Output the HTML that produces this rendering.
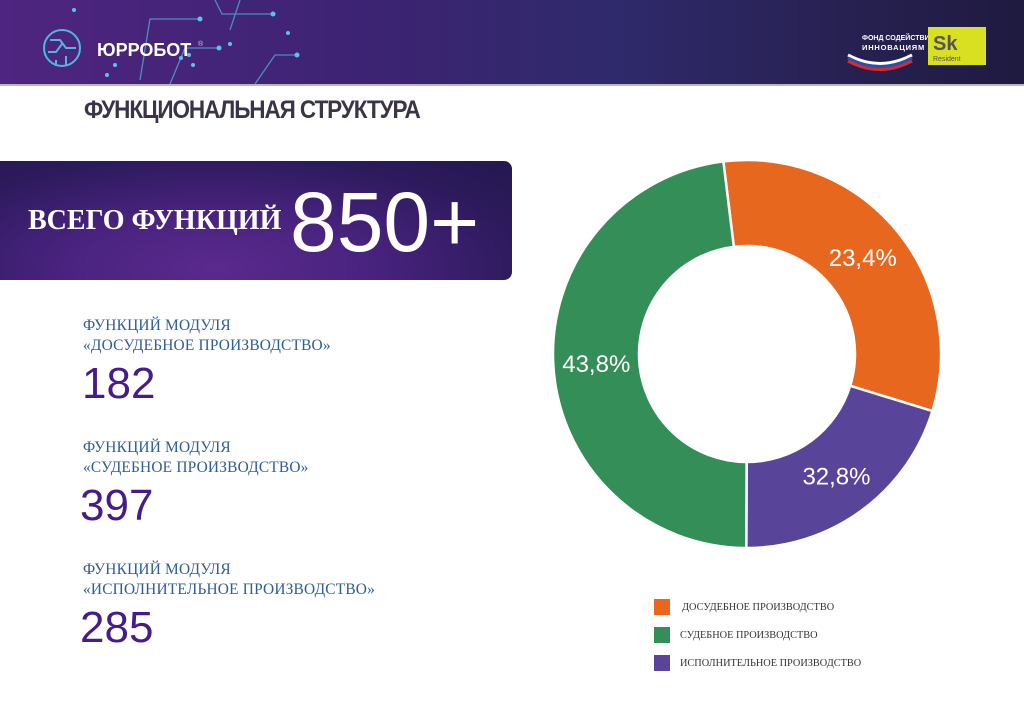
<!DOCTYPE html>
<html><head><meta charset="utf-8">
<style>
body{margin:0;width:1024px;height:726px;background:#fff;position:relative;overflow:hidden;font-family:"Liberation Sans","Noto Sans CJK SC",sans-serif}
.abs{position:absolute}
#hdr{left:0;top:0;width:1024px;height:84px;background:linear-gradient(90deg,#4e2580 0%,#3d2373 35%,#2f2a6b 60%,#26204f 85%,#1f1a40 100%);border-bottom:2px solid #b9b6c6}
.serif{font-family:"Liberation Serif","Noto Serif CJK SC",serif}
.lbl{color:#2e5d95;font-size:15.4px;line-height:20px;letter-spacing:0.2px}
.num{color:#451c8a;font-size:44px;line-height:44px}
.leg{font-size:10.3px;color:#333}
.sw{width:16px;height:16px}
</style></head><body>
<div id="hdr" class="abs">
<svg width="1024" height="84" style="position:absolute;left:0;top:0">
<g stroke="#4fa6d8" stroke-width="1.3" fill="none" opacity="0.8">
<polyline points="140,80 150,19 200,19"/><polyline points="170,84 185,48 218,48"/><polyline points="215,0 222,14 273,14"/><polyline points="255,84 275,55 297,55"/><polyline points="240,0 230,30"/>
</g>
<g fill="#5fc0ee"><circle cx="74" cy="10" r="2"/><circle cx="200" cy="19" r="2.5"/><circle cx="273" cy="14" r="2.5"/><circle cx="219" cy="48" r="2.5"/><circle cx="297" cy="55" r="2.5"/><circle cx="288" cy="33" r="2"/><circle cx="181" cy="58" r="2"/><circle cx="189" cy="55" r="2"/><circle cx="193" cy="65" r="2"/><circle cx="230" cy="44" r="2"/><circle cx="115" cy="65" r="2"/><circle cx="107" cy="75" r="2"/></g>
<g stroke="#4fb7e0" stroke-width="2" fill="none"><circle cx="62" cy="48" r="18"/><path d="M50 40h10l6 8h10M48 52h8l6-8M56 60v6M66 56v10"/></g>
<text x="97" y="56" fill="#fff" font-size="18" font-weight="bold" font-family="Liberation Sans">ЮРРОБОТ</text><text x="198" y="46" fill="#ccc" font-size="7">®</text>
<text x="862" y="40" fill="#fff" font-size="7" font-weight="bold">ФОНД СОДЕЙСТВИЯ</text>
<text x="862" y="50" fill="#fff" font-size="7.5" font-weight="bold" letter-spacing="0.8">ИННОВАЦИЯМ</text>
<path d="M848 55 Q880 72 912 55" stroke="#fff" stroke-width="3" fill="none"/><path d="M848 58 Q880 75 912 58" stroke="#2a4fb0" stroke-width="3" fill="none"/><path d="M848 61 Q880 78 912 61" stroke="#d62b2b" stroke-width="3" fill="none"/>
<rect x="928" y="27" width="58" height="38" fill="#d9e021"/>
<text x="933" y="50" fill="#555" font-size="20" font-weight="bold">Sk</text><text x="933" y="61" fill="#555" font-size="7">Resident</text>
</svg>
</div>
<div class="abs" style="left:84px;top:96px;font-size:25px;font-weight:bold;color:#3a3446;letter-spacing:-1.2px;transform:scaleX(0.9);transform-origin:left">ФУНКЦИОНАЛЬНАЯ СТРУКТУРА</div>
<div class="abs" style="left:0;top:161px;width:512px;height:119px;border-radius:0 8px 8px 0;background:radial-gradient(ellipse at 42% 90%,#5a2a8c 0%,#4a2380 35%,#2c1a5c 75%,#24184e 100%)">
<div class="abs serif" style="left:28px;top:44px;font-size:28px;font-weight:bold;color:#fff">ВСЕГО ФУНКЦИЙ</div>
<div class="abs" style="left:290px;top:16px;font-size:84px;color:#fff;line-height:90px">850+</div>
</div>
<div class="abs serif lbl" style="left:83px;top:316px">ФУНКЦИЙ МОДУЛЯ<br>«ДОСУДЕБНОЕ ПРОИЗВОДСТВО»</div>
<div class="abs num" style="left:82px;top:362px">182</div>
<div class="abs serif lbl" style="left:83px;top:438px">ФУНКЦИЙ МОДУЛЯ<br>«СУДЕБНОЕ ПРОИЗВОДСТВО»</div>
<div class="abs num" style="left:80px;top:484px">397</div>
<div class="abs serif lbl" style="left:83px;top:560px">ФУНКЦИЙ МОДУЛЯ<br>«ИСПОЛНИТЕЛЬНОЕ ПРОИЗВОДСТВО»</div>
<div class="abs num" style="left:80px;top:606px">285</div>

<svg id="donut" class="abs" style="left:0;top:0" width="1024" height="726"></svg>

<div class="abs" style="left:654px;top:593px">
<div style="display:flex;align-items:center;height:28px"><div class="sw" style="background:#e8671f"></div><span class="leg serif" style="margin-left:12px">ДОСУДЕБНОЕ ПРОИЗВОДСТВО</span></div>
<div style="display:flex;align-items:center;height:28px"><div class="sw" style="background:#338f57"></div><span class="leg serif" style="margin-left:10px">СУДЕБНОЕ ПРОИЗВОДСТВО</span></div>
<div style="display:flex;align-items:center;height:28px"><div class="sw" style="background:#584599"></div><span class="leg serif" style="margin-left:10px">ИСПОЛНИТЕЛЬНОЕ ПРОИЗВОДСТВО</span></div>
</div>

<script>
const categories = ["Досудебное", "Исполнительное", "Судебное"];
const shares = [31.7, 20.3, 48.0];
const labels = ["23,4%", "32,8%", "43,8%"];
const colors = ["#e8671f", "#584599", "#338f57"];
const cx = 747, cy = 354, R = 194, r = 108, startDeg = -7, labelR = 151;
const svg = document.getElementById('donut');
const NS = "http://www.w3.org/2000/svg";
const total = shares.reduce((a,b)=>a+b,0);
function pt(deg, rad){const a=(deg-90)*Math.PI/180;return [cx+rad*Math.cos(a), cy+rad*Math.sin(a)];}
let acc = startDeg;
shares.forEach((v,i)=>{
  const sweep = v/total*360, a0=acc, a1=acc+sweep; acc=a1;
  const large = sweep>180?1:0;
  const p0=pt(a0,R),p1=pt(a1,R),q1=pt(a1,r),q0=pt(a0,r);
  const path=document.createElementNS(NS,'path');
  path.setAttribute('d',`M${p0[0]},${p0[1]} A${R},${R} 0 ${large} 1 ${p1[0]},${p1[1]} L${q1[0]},${q1[1]} A${r},${r} 0 ${large} 0 ${q0[0]},${q0[1]} Z`);
  path.setAttribute('fill',colors[i]);path.setAttribute('stroke','#fff');path.setAttribute('stroke-width','2.5');
  
  
  svg.appendChild(path);
  const mid=(a0+a1)/2, lp=pt(mid,labelR);
  const t=document.createElementNS(NS,'text');
  t.setAttribute('x',lp[0]);t.setAttribute('y',lp[1]+9);t.setAttribute('text-anchor','middle');
  t.setAttribute('fill','#fff');t.setAttribute('font-size','24');t.setAttribute('font-family','Liberation Sans, sans-serif');
  t.textContent=labels[i];
  
  
  svg.appendChild(t);
});
</script>
</body></html>
